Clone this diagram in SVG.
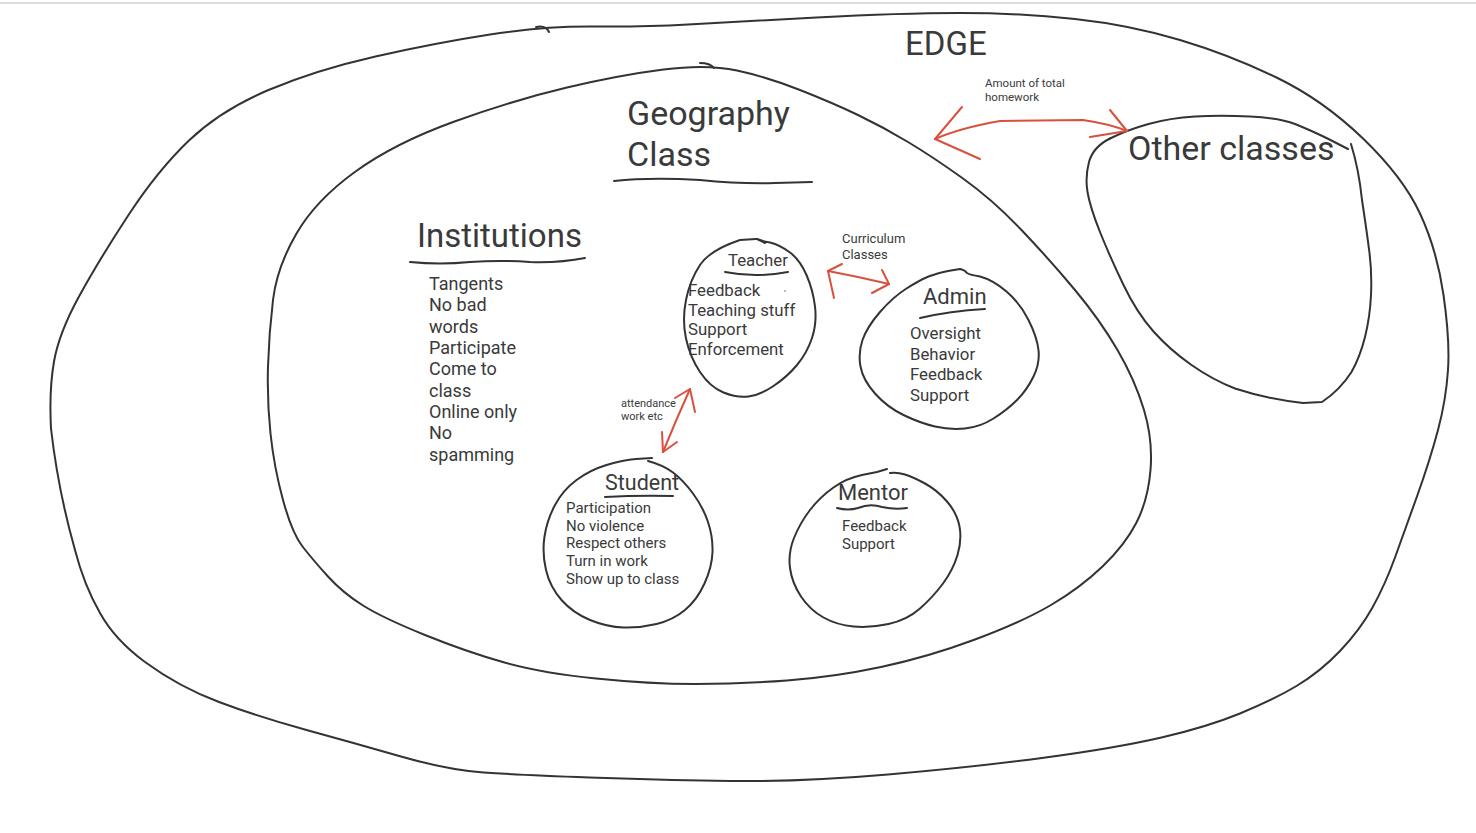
<svg xmlns="http://www.w3.org/2000/svg" width="1476" height="833" viewBox="0 0 1476 833">
<style>
.ln{fill:none;stroke:#333;stroke-width:2;stroke-linecap:round;stroke-linejoin:round}
.rd{fill:none;stroke:#d9503f;stroke-width:2;stroke-linecap:round;stroke-linejoin:round}
text{font-family:Roboto,"Liberation Sans",sans-serif;fill:#3a3a3a}
.t33{font-size:33px}
.t22{font-size:22px}
.t17{font-size:16.8px}
.t18{font-size:18px}
.t15{font-size:15px}
.t13{font-size:13px}
.t11{font-size:11.5px}
</style>
<rect width="1476" height="833" fill="#fff"/>
<rect x="0" y="2" width="1476" height="2" fill="#dcdcdc"/>

<g id="edge">
<path class="ln" d="M490,34.5 Q545,26 594,26.5 Q643,27 688,24.5 Q733,22 816.5,17.5 Q900,13 960,13 Q1020,13 1075,19 Q1130,25 1180,40 Q1230,55 1276.5,77.5 Q1323,100 1363,138.5 Q1403,177 1420,213.5 Q1437,250 1443.5,295 Q1450,340 1448,370 Q1446,400 1438,430 Q1430,460 1417.5,495 Q1405,530 1395,557.5 Q1385,585 1372.5,607.5 Q1360,630 1340,651 Q1320,672 1296.5,686 Q1273,700 1240,713.5 Q1207,727 1161.5,737.5 Q1116,748 1045.5,757.5 Q975,767 888,774.5 Q801,782 730.5,781 Q660,780 589.5,777.5 Q519,775 483.5,772.5 Q448,770 401,756.5 Q354,743 306.5,730 Q259,717 219,702 Q179,687 145,662 Q115,640 100,613 Q84,585 75,550 Q58,490 51,428.5 Q49,390 54,361.5 Q59,333 79,296.5 Q99,260 128.5,215 Q158,170 189.5,140 Q221,110 268.5,90 Q316,70 375.5,56.5 Q435,43 490,34.5 Z"/>
<path class="ln" d="M536,27 Q546,25 549,32"/>
<text class="t33" x="905" y="55">EDGE</text>
</g>

<g id="geography">
<path class="ln" d="M663.5,69.5 Q707,64 737,70.5 Q767,77 800,90 Q833,103 858,115 Q883,127 908,142 Q933,157 963,178.5 Q993,200 1021.5,230 Q1050,260 1075,290 Q1100,320 1117.5,350 Q1135,380 1144,410 Q1153,440 1150.5,470 Q1148,500 1136.5,522.5 Q1125,545 1102.5,566.5 Q1080,588 1051,605 Q1022,622 975,639.5 Q928,657 881,667 Q834,677 787,680.5 Q740,684 695,684 Q650,684 596,678.5 Q542,673 504.5,662.5 Q467,652 425,635 Q383,618 363,605.5 Q343,593 328,576.5 Q313,560 302.5,546.5 Q292,533 283,500 Q274,467 270.5,433.5 Q267,400 268,366.5 Q269,333 273,300 Q277,267 296.5,233.5 Q316,200 355.5,171.5 Q395,143 454.5,121.5 Q514,100 567,87.5 Q620,75 663.5,69.5 Z"/>
<path class="ln" d="M700,63 Q710,63 714,68"/>
<text x="627" y="125" style="font-size:34px">Geography</text>
<text x="627" y="166" style="font-size:34px">Class</text>
<path class="ln" d="M614,181 Q650,177 700,180 Q740,184 775,183 L812,182"/>
</g>

<g id="other-classes">
<path class="ln" d="M1110,138.5 Q1127,130 1148.5,124 Q1170,118 1195,116.5 Q1220,115 1250,116.5 Q1280,118 1295,124 Q1310,130 1328.5,139 L1348,149"/>
<path class="ln" d="M1351,144 Q1359,170 1362,200 Q1367,233 1369.5,253 Q1372,273 1371,295 Q1370,317 1365,337 Q1360,357 1351.5,372 Q1340,390 1322,402 L1303,403 Q1267,399 1235,388.5 Q1213,380 1191.5,365 Q1170,350 1153.5,331.5 Q1137,313 1123.5,285 Q1110,257 1100,232 Q1090,207 1087.5,192 Q1085,177 1089,162 Q1093,147 1110,138.5"/>
<text x="1128" y="160" style="font-size:34px">Other classes</text>
</g>

<g id="institutions">
<text class="t33" x="417" y="247">Institutions</text>
<path class="ln" d="M410,262 Q440,265 470,262 Q500,260 530,262 Q560,263 585,258"/>
<text class="t18" x="429" y="290">Tangents</text>
<text class="t18" x="429" y="311">No bad</text>
<text class="t18" x="429" y="333">words</text>
<text class="t18" x="429" y="354">Participate</text>
<text class="t18" x="429" y="375">Come to</text>
<text class="t18" x="429" y="397">class</text>
<text class="t18" x="429" y="418">Online only</text>
<text class="t18" x="429" y="439">No</text>
<text class="t18" x="429" y="461">spamming</text>
</g>

<g id="teacher">
<path class="ln" d="M756,239 L740,240 Q710,250 700,265 Q690,280 686,300 Q682,320 686,338.5 Q690,357 700,372 Q710,387 723.5,392.5 Q737,398 748.5,396.5 Q760,395 773.5,386 Q787,377 797,365 Q807,353 812,338 Q817,323 815,306.5 Q813,290 806.5,275 Q800,260 790,252.5 Q780,245 770,242.5 Q762,241 757,239 L765,243"/>
<text class="t17" x="728" y="266">Teacher</text>
<path class="ln" d="M725,272 Q755,278 788,272"/>
<text class="t17" x="688" y="296">Feedback</text>
<text class="t17" x="688" y="316">Teaching stuff</text>
<text class="t17" x="688" y="335">Support</text>
<text class="t17" x="688" y="355">Enforcement</text>
<circle cx="785" cy="291" r="0.9" fill="#999"/>
</g>

<g id="admin">
<path class="ln" d="M928.5,276.5 Q937,273 948,271 L960,269 Q965,270 967,273 Q970,275 980,276.5 Q993,280 1006.5,291.5 Q1020,303 1028.5,320 Q1037,337 1038.5,350 Q1040,363 1033.5,376.5 Q1027,390 1017,400 Q1007,410 993.5,418.5 Q980,427 965,428.5 Q950,430 935,426.5 Q920,423 903.5,415 Q887,407 875,393.5 Q863,380 860.5,366.5 Q858,353 862.5,340 Q867,327 880,312 Q893,297 906.5,288.5 Q920,280 928.5,276.5 Z"/>
<text class="t22" x="923" y="304">Admin</text>
<path class="ln" d="M920,318 Q950,311 985,309"/>
<text class="t17" x="910" y="339">Oversight</text>
<text class="t17" x="910" y="360">Behavior</text>
<text class="t17" x="910" y="380">Feedback</text>
<text class="t17" x="910" y="401">Support</text>
</g>

<g id="student">
<path class="ln" d="M652,458 L636,459 Q623,460 606.5,465 Q590,470 576.5,480 Q563,490 555,505 Q547,520 544.5,536.5 Q542,553 546,570 Q550,587 561.5,600 Q573,613 590,620 Q607,627 623.5,627.5 Q640,628 656.5,624 Q673,620 685,610 Q697,600 704.5,583.5 Q712,567 712.5,552 Q713,537 708,522 Q703,507 693,493.5 Q683,480 673,472.5 Q663,465 648,461"/>
<text class="t22" x="605" y="490" style="font-size:21.5px">Student</text>
<path class="ln" d="M605,497 Q640,495 673,496"/>
<text class="t15" x="566" y="513">Participation</text>
<text class="t15" x="566" y="531">No violence</text>
<text class="t15" x="566" y="548">Respect others</text>
<text class="t15" x="566" y="566">Turn in work</text>
<text class="t15" x="566" y="584">Show up to class</text>
</g>

<g id="mentor">
<path class="ln" d="M887,469 L877,472 L862,475 Q847,478 833.5,487.5 Q820,497 810,510 Q800,523 794,538 Q788,553 790,568 Q792,583 801,596.5 Q810,610 823.5,617.5 Q837,625 853.5,626.5 Q870,628 888.5,624 Q907,620 920,608.5 Q933,597 943,583.5 Q953,570 957.5,555 Q962,540 959.5,526.5 Q957,513 947,501.5 Q937,490 925,483.5 Q913,477 905,474.5 Q897,472 890,473"/>
<text class="t22" x="838" y="500">Mentor</text>
<path class="ln" d="M837,508 Q848,511 858,508 Q870,503 882,507 Q895,510 907,508"/>
<text class="t15" x="842" y="531">Feedback</text>
<text class="t15" x="842" y="549">Support</text>
</g>

<g id="connectors">
<path class="rd" d="M935,139 Q960,128 1000,121 L1083,120 Q1110,124 1127,131"/>
<path class="rd" d="M962,107 L935,139 L980,159"/>
<path class="rd" d="M1110,110 L1127,131 L1090,137"/>
<text class="t11" x="985" y="87">Amount of total</text>
<text class="t11" x="985" y="101">homework</text>

<path class="rd" d="M828,271 Q860,277 889,284"/>
<path class="rd" d="M842,264 L828,271 L834,298"/>
<path class="rd" d="M882,270 L889,284 L872,293"/>
<text class="t13" x="842" y="243">Curriculum</text>
<text class="t13" x="842" y="259">Classes</text>

<path class="rd" d="M690,389 Q676,420 663,452"/>
<path class="rd" d="M675,398 L690,389 L695,412"/>
<path class="rd" d="M662,432 L663,452 L677,442"/>
<text class="t11" x="621" y="407" style="font-size:11px">attendance</text>
<text class="t11" x="621" y="420" style="font-size:11px">work etc</text>
</g>
</svg>
